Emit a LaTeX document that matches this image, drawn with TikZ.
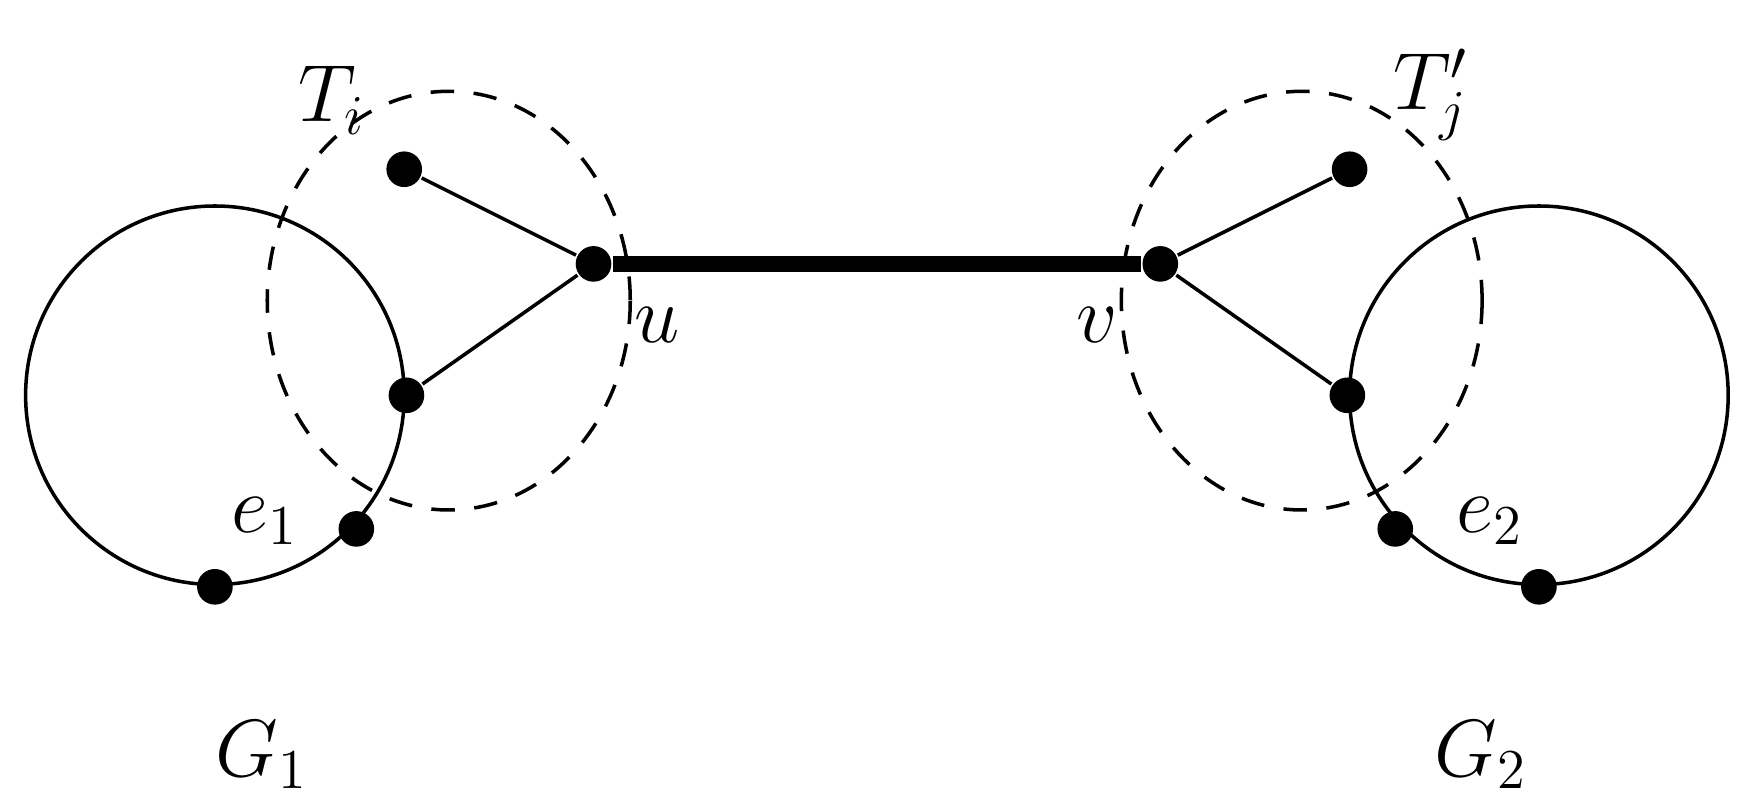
\documentclass[tikz,border=0pt]{standalone}
\begin{document}
\begin{tikzpicture}[y=-1cm,
  dot/.style={circle,fill=black,inner sep=0pt,minimum size=0.32cm},
  lbl/.style={font=\fontsize{22}{26}\selectfont},
  line width=0.9pt]
\useasboundingbox (0,0) rectangle (15.68,7.14);
\draw (1.93,3.55) circle (1.70);
\draw (13.82,3.55) circle (1.70);
\draw[dashed,dash pattern=on 6pt off 5pt] (4.03,2.70) ellipse [x radius=1.63, y radius=1.88];
\draw[dashed,dash pattern=on 6pt off 5pt] (11.69,2.70) ellipse [x radius=1.62, y radius=1.88];
\node[dot] (a1) at (3.63,1.52) {};
\node[dot] (u) at (5.33,2.37) {};
\node[dot] (a2) at (3.65,3.55) {};
\node[dot] (e1) at (3.20,4.75) {};
\node[dot] (b) at (1.93,5.27) {};
\node[dot] (c1) at (12.12,1.52) {};
\node[dot] (v) at (10.42,2.37) {};
\node[dot] (c2) at (12.10,3.55) {};
\node[dot] (e2) at (12.53,4.75) {};
\node[dot] (d) at (13.82,5.27) {};
\draw (a1) -- (u) -- (a2);
\draw (c1) -- (v) -- (c2);
\draw[line width=4.2pt] (u) -- (v);
\node[lbl] (ti) at (2.98,0.90) {$T_i$};
\node[lbl] (tj) at (12.85,0.85) {$T'_j$};
\node[lbl] (lu) at (5.90,2.92) {$u$};
\node[lbl] (lv) at (9.85,2.92) {$v$};
\node[lbl] (le1) at (2.38,4.68) {$e_1$};
\node[lbl] (le2) at (13.38,4.68) {$e_2$};
\node[lbl] (g1) at (2.35,6.78) {$G_1$};
\node[lbl] (g2) at (13.30,6.78) {$G_2$};
\end{tikzpicture}
\end{document}
